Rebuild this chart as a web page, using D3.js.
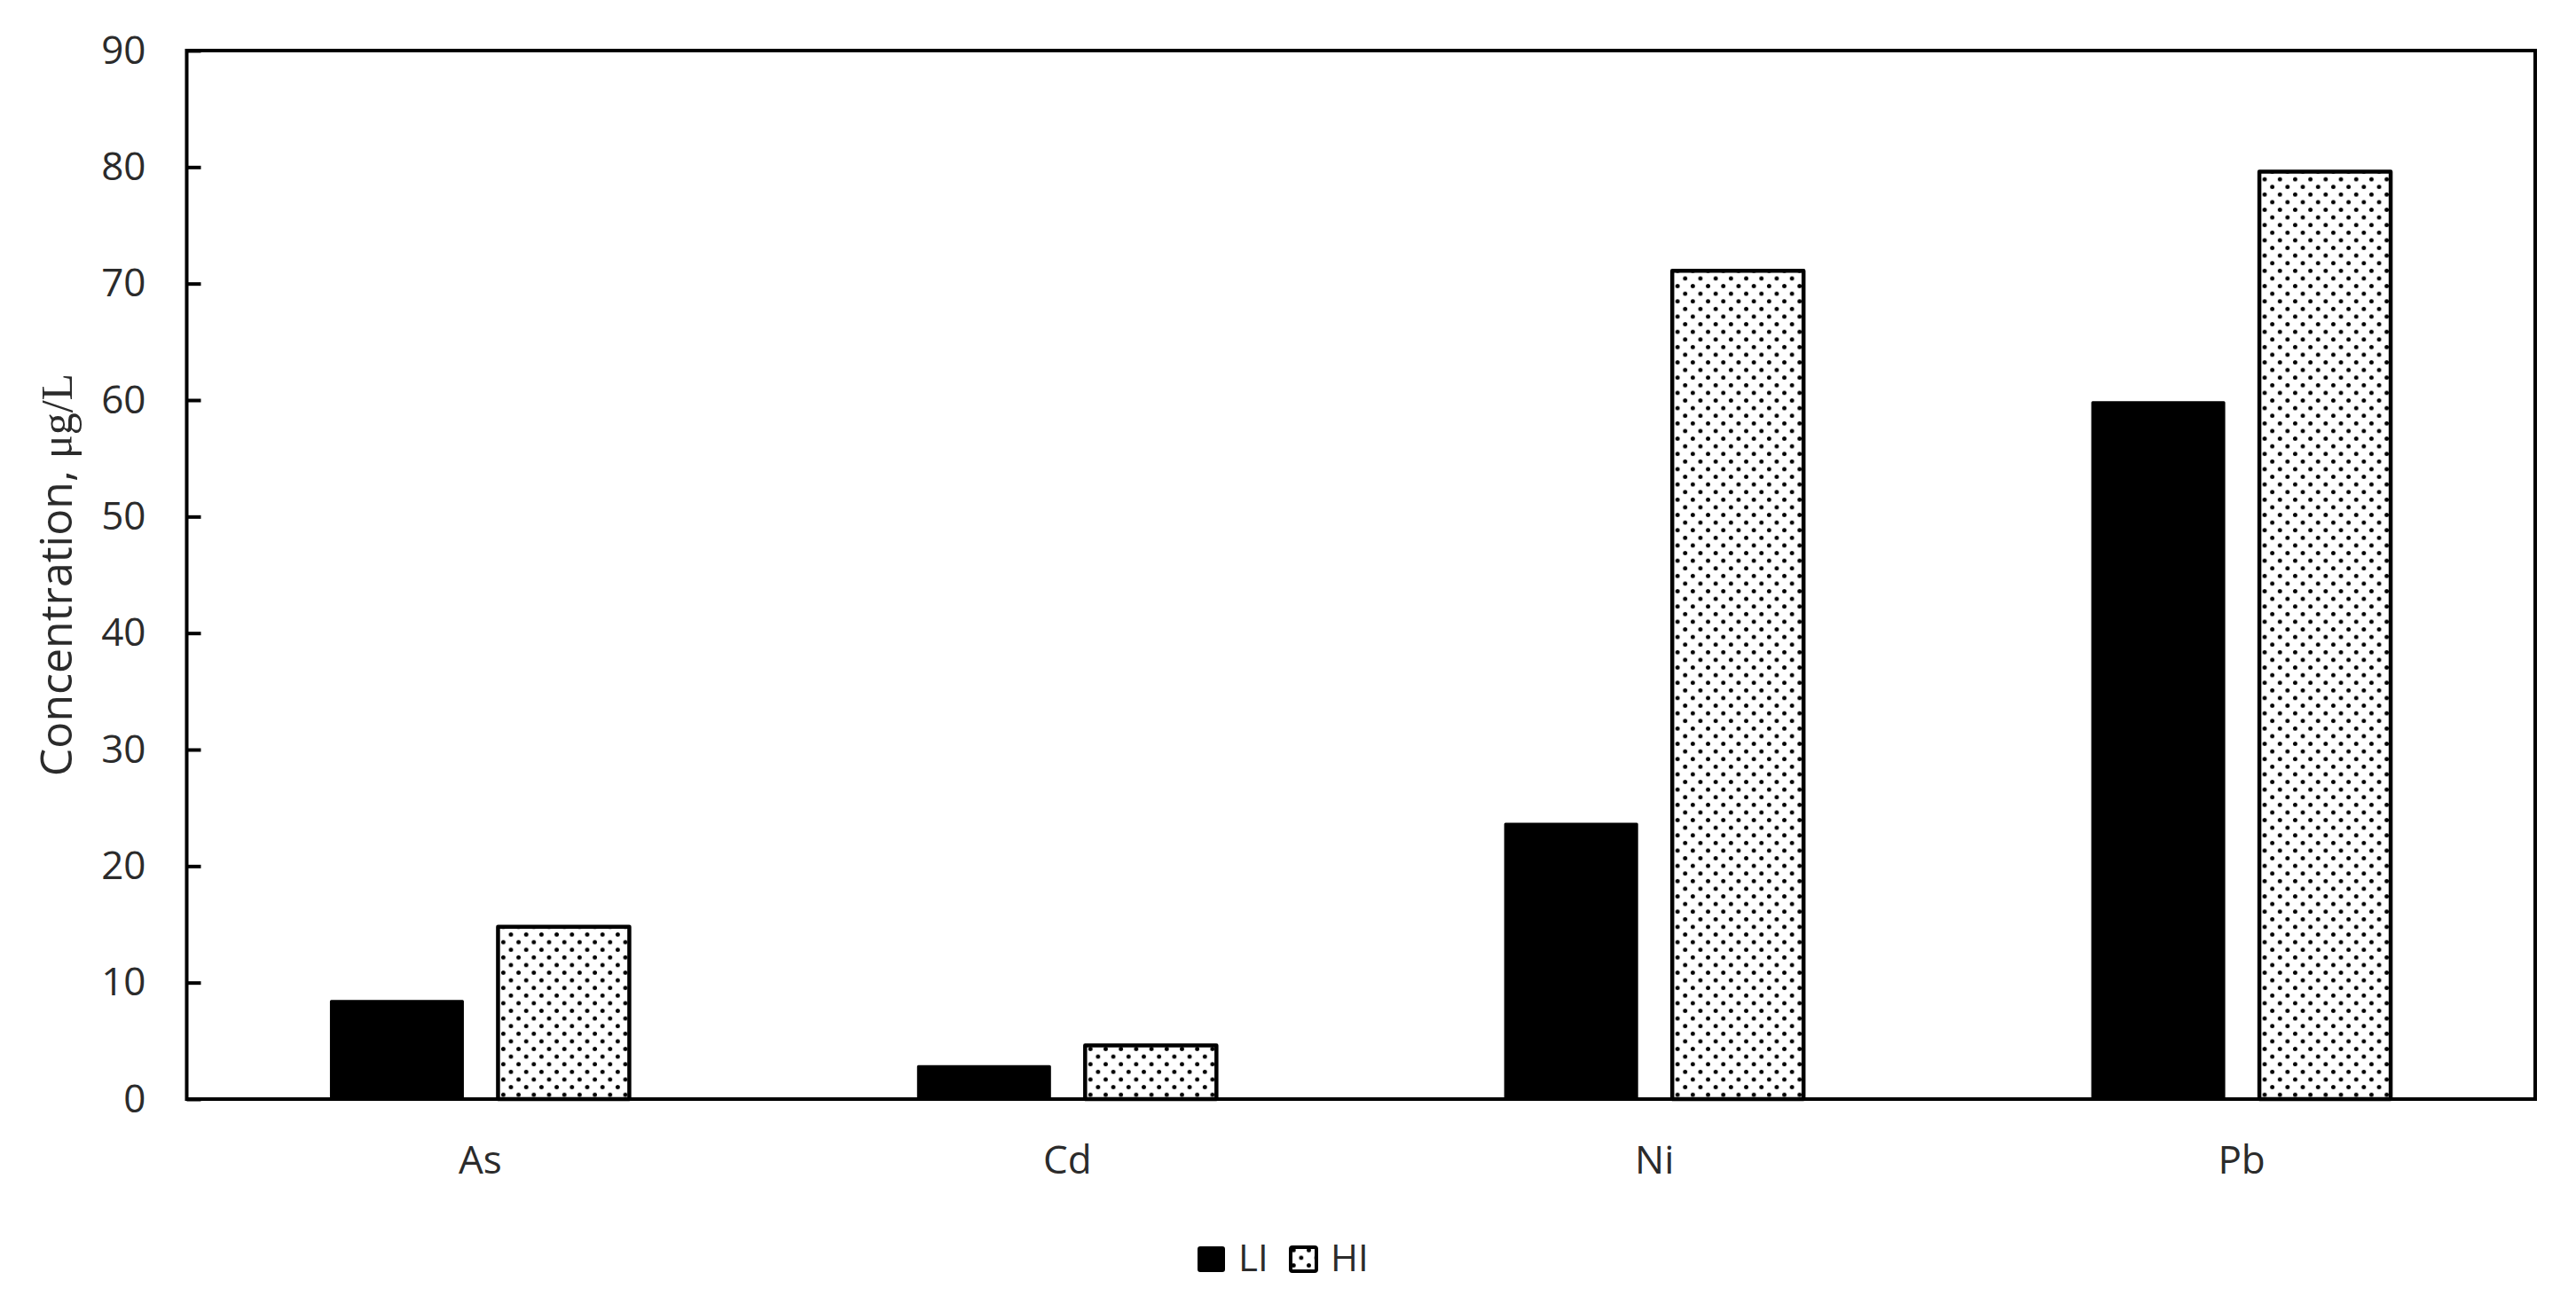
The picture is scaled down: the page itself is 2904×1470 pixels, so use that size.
<!DOCTYPE html>
<html>
<head>
<meta charset="utf-8">
<script src="https://cdn.jsdelivr.net/npm/d3@7"></script>
<style>
  html, body { margin: 0; padding: 0; background: #fff; }
  svg { display: block; }
</style>
</head>
<body>
<svg id="chart" width="2904" height="1470"></svg>
<script>
// ---- data ----
const categories = ["As", "Cd", "Ni", "Pb"];
const seriesNames = ["LI", "HI"];
const liValues = [8.4, 2.8, 23.6, 59.8];
const hiValues = [14.8, 4.6, 71.1, 79.6];
const yTicks = [0, 10, 20, 30, 40, 50, 60, 70, 80, 90];

// ---- layout ----
const plot = { left: 210.5, right: 2858, top: 57, bottom: 1239 };
const fontSans = "'Open Sans', 'Noto Sans', sans-serif";
const textColor = "#2b2b2b";
const fontSize = 44;

const svg = d3.select("#chart");

// dotted pattern
const defs = svg.append("defs");
const pat = defs.append("pattern")
  .attr("id", "dots")
  .attr("patternUnits", "userSpaceOnUse")
  .attr("width", 17.2).attr("height", 17.2);
pat.append("rect").attr("width", 17.2).attr("height", 17.2).attr("fill", "#fff");
pat.append("circle").attr("cx", 4.3).attr("cy", 4.3).attr("r", 2.4).attr("fill", "#000");
pat.append("circle").attr("cx", 12.9).attr("cy", 12.9).attr("r", 2.4).attr("fill", "#000");

// scales
const x0 = d3.scaleBand().domain(categories).range([plot.left, plot.right]).padding(0);
const groupW = 336;
const x1 = d3.scaleBand().domain(seriesNames)
  .range([(x0.bandwidth() - groupW) / 2, (x0.bandwidth() + groupW) / 2])
  .paddingInner(40 / 188).paddingOuter(0);
const y = d3.scaleLinear().domain([0, 90]).range([plot.bottom, plot.top]);

const data = categories.map((c, i) => ({ cat: c, LI: liValues[i], HI: hiValues[i] }));

// bars
const groups = svg.append("g").selectAll("g").data(data).join("g")
  .attr("transform", d => `translate(${x0(d.cat)},0)`);

groups.append("rect")
  .attr("x", x1("LI")).attr("width", x1.bandwidth())
  .attr("y", d => y(d.LI)).attr("height", d => y(0) - y(d.LI))
  .attr("fill", "#000").attr("stroke", "#000").attr("stroke-width", 3)
  .attr("stroke-linejoin", "round");

groups.append("rect")
  .attr("x", x1("HI")).attr("width", x1.bandwidth())
  .attr("y", d => y(d.HI)).attr("height", d => y(0) - y(d.HI))
  .attr("fill", "url(#dots)").attr("stroke", "#000").attr("stroke-width", 4.5)
  .attr("stroke-linejoin", "round");

// frame
svg.append("rect")
  .attr("x", plot.left).attr("y", plot.top)
  .attr("width", plot.right - plot.left).attr("height", plot.bottom - plot.top)
  .attr("fill", "none").attr("stroke", "#000").attr("stroke-width", 4);

// y axis
const yAxis = svg.append("g")
  .attr("transform", `translate(${plot.left},0)`)
  .call(d3.axisLeft(y).tickValues(yTicks).tickSize(-16).tickPadding(46).tickFormat(d3.format("d")));
yAxis.select(".domain").remove();
yAxis.selectAll(".tick line").attr("stroke", "#000").attr("stroke-width", 4);
yAxis.selectAll(".tick text")
  .attr("font-family", fontSans).attr("font-size", fontSize).attr("fill", textColor);

// x axis
const xAxis = svg.append("g")
  .attr("transform", `translate(0,${plot.bottom})`)
  .call(d3.axisBottom(x0).tickSize(0).tickPadding(53));
xAxis.select(".domain").remove();
xAxis.selectAll(".tick text")
  .attr("font-family", fontSans).attr("font-size", fontSize).attr("fill", textColor);

// y title
const title = svg.append("text")
  .attr("transform", `translate(81,${(plot.top + plot.bottom) / 2}) rotate(-90)`)
  .attr("text-anchor", "middle")
  .attr("font-family", fontSans).attr("font-size", 50).attr("fill", textColor);
title.append("tspan").text("Concentration, ");
title.append("tspan").attr("font-family", "'Liberation Serif', 'DejaVu Serif', serif").text("μg/L");

// legend
const legendItems = [
  { name: "LI", x: 1350, fill: "#000", sw: 2 },
  { name: "HI", x: 1454, fill: "url(#dots)", sw: 4 }
];
const lg = svg.append("g").selectAll("g").data(legendItems).join("g")
  .attr("transform", d => `translate(${d.x},1405)`);
lg.append("rect").attr("x", 1).attr("y", 1).attr("width", 29).attr("height", 27)
  .attr("fill", d => d.fill).attr("stroke", "#000").attr("stroke-width", d => d.sw)
  .attr("rx", 2);
lg.append("text").attr("x", 46).attr("y", 28)
  .attr("font-family", fontSans).attr("font-size", 42).attr("fill", textColor)
  .text(d => d.name);
</script>
</body>
</html>
